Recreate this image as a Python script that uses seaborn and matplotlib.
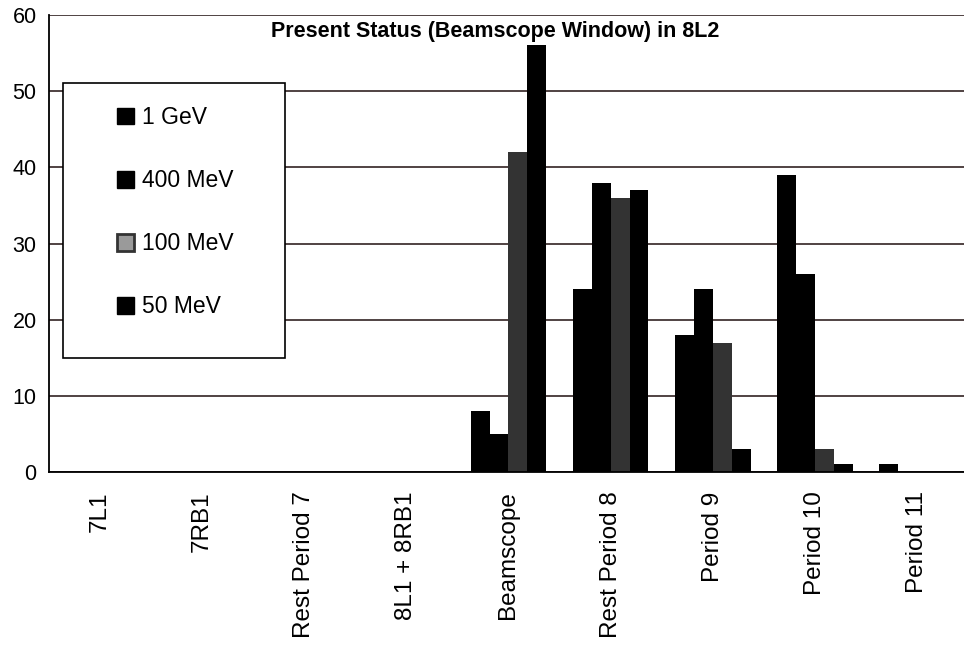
import pandas as pd
import numpy as np
import matplotlib.pyplot as plt
import seaborn as sns
from matplotlib.patches import Patch, Rectangle

# ========== DATA ==========
categories = ['7L1', '7RB1', 'Rest Period 7', '8L1 + 8RB1', 'Beamscope',
              'Rest Period 8', 'Period 9', 'Period 10', 'Period 11']
energies = ['1 GeV', '400 MeV', '100 MeV', '50 MeV']
vals_1gev = [0, 0, 0, 0, 8, 24, 18, 39, 1]
vals_400mev = [0, 0, 0, 0, 5, 38, 24, 26, 0]
vals_100mev = [0, 0, 0, 0, 42, 36, 17, 3, 0]
vals_50mev = [0, 0, 0, 0, 56, 37, 3, 1, 0]

series = {'1 GeV': vals_1gev, '400 MeV': vals_400mev,
          '100 MeV': vals_100mev, '50 MeV': vals_50mev}
rows = []
for e in energies:
    for c, v in zip(categories, series[e]):
        rows.append({'category': c, 'energy': e, 'value': v})
df = pd.DataFrame(rows)

palette = {'1 GeV': '#000000', '400 MeV': '#000000',
           '100 MeV': '#333333', '50 MeV': '#000000'}

# ========== PLOT ==========
sns.set_style('white')
plt.rcParams['font.family'] = ['Liberation Sans', 'DejaVu Sans']
plt.rcParams['text.color'] = 'black'
plt.rcParams['xtick.color'] = 'black'
plt.rcParams['ytick.color'] = 'black'

fig = plt.figure(figsize=(9.64, 6.49), dpi=100)
# axes spans x 49..968 px, y 15..472 px
ax = fig.add_axes([49 / 964, 1 - 472 / 649, 919 / 964, 457 / 649])

sns.barplot(data=df, x='category', y='value', hue='energy', order=categories,
            hue_order=energies, palette=palette, width=0.74, gap=0,
            saturation=1, edgecolor='none', ax=ax, legend=False)

ax.set_ylim(0, 60)
ax.set_xlim(-0.5, len(categories) - 0.5)
ax.set_yticks(range(0, 61, 10))
ax.yaxis.grid(True, color='#201010', linewidth=1.1)
ax.set_axisbelow(True)
ax.set_xlabel('')
ax.set_ylabel('')

for s in ['top', 'right']:
    ax.spines[s].set_visible(False)
for s in ['left', 'bottom']:
    ax.spines[s].set_color('black')
    ax.spines[s].set_linewidth(1.3)

ax.tick_params(axis='y', direction='inout', length=14, width=1, labelsize=15.5, pad=2)
ax.tick_params(axis='x', which='major', length=0, labelsize=17.5, pad=14)
ax.set_xticks(np.arange(-0.5, len(categories), 1), minor=True)
ax.tick_params(axis='x', which='minor', direction='inout', length=12, width=1)
plt.setp(ax.get_xticklabels(), rotation=90, va='top', ha='center', color='black')
plt.setp(ax.get_yticklabels(), color='black')

fig.text(495 / 964, 1 - 31 / 649, 'Present Status (Beamscope Window) in 8L2',
         ha='center', va='center', fontsize=15.5, fontweight='bold', color='black')

# legend box (frame drawn separately to match the wide box in the reference)
fig.patches.append(Rectangle((63 / 964, 1 - 358 / 649), 222 / 964, 275 / 649,
                             transform=fig.transFigure, facecolor='white',
                             edgecolor='black', linewidth=1.2, zorder=5))
handles = [Patch(facecolor='#000000', edgecolor='black'),
           Patch(facecolor='#000000', edgecolor='black'),
           Patch(facecolor='#9a9a9a', edgecolor='#333333', linewidth=2),
           Patch(facecolor='#000000', edgecolor='black')]
leg = fig.legend(handles, energies, loc='upper left',
                 bbox_to_anchor=(117 / 964, 1 - 106 / 649),
                 fontsize=16.5, frameon=False, labelcolor='black',
                 handlelength=0.75, handleheight=0.75, handletextpad=0.35,
                 labelspacing=1.75, borderpad=0, borderaxespad=0)
leg.set_zorder(6)

fig.savefig('out.png', dpi=100)
plt.close(fig)
